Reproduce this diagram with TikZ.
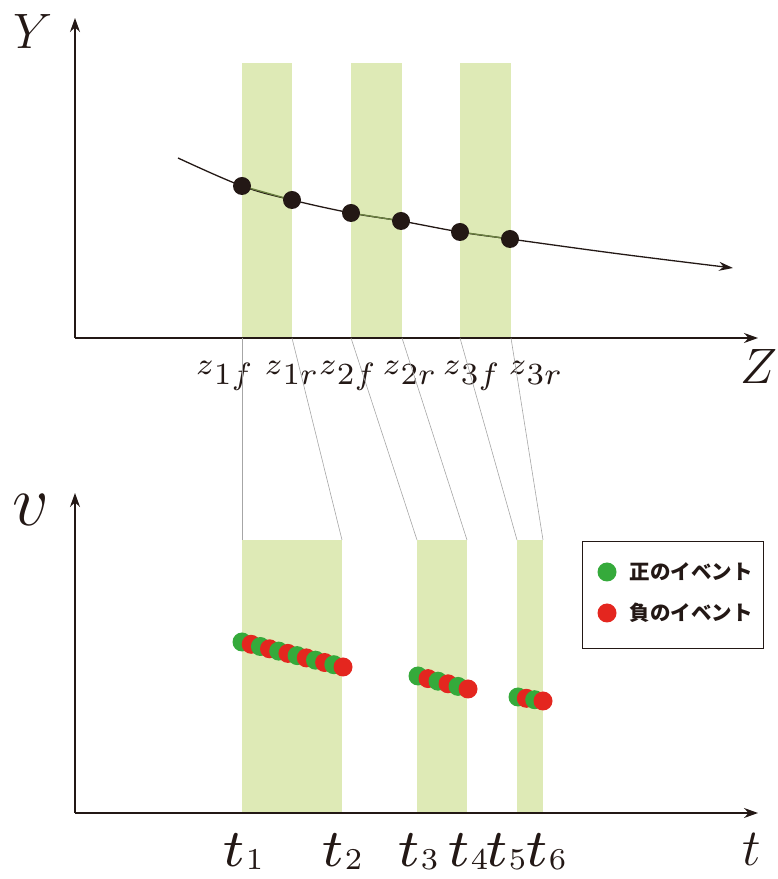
\documentclass[tikz,border=0pt]{standalone}
\usepackage{graphicx}
\usepackage{fontspec}
\newfontfamily\jpfont{Noto Sans CJK JP}
\usetikzlibrary{arrows.meta}
\definecolor{bandgreen}{HTML}{DEEAB6}
\definecolor{evgreen}{HTML}{35AA3B}
\definecolor{evred}{HTML}{E4261F}
\definecolor{olive}{HTML}{6A8040}
\definecolor{ink}{HTML}{231815}
% subscripts with a chosen drop
\newcommand\lowsub[1]{\raisebox{-0.05em}{\scalebox{0.57}{$#1$}}}
\newcommand\zsub[1]{\raisebox{-0.3em}{$#1$}}

\begin{document}
\begin{tikzpicture}[x=1pt, y=1pt,
  axis/.style={line width=1.4pt, draw=ink, -{Stealth[length=14pt, width=10pt]}},
  band/.style={fill=bandgreen, draw=none},
  link/.style={draw=gray!70, line width=0.6pt},
  bdot/.style={circle, fill=ink, inner sep=0pt, minimum size=18pt},
  evg/.style={circle, fill=evgreen, inner sep=0pt, minimum size=19pt},
  evr/.style={circle, fill=evred, inner sep=0pt, minimum size=19pt},
  bigmath/.style={text=ink, font=\Huge, scale=2},
  zlab/.style={text=ink, font=\scriptsize, scale=4.4, anchor=base},
  tlab/.style={text=ink, font=\scriptsize, scale=7.6, anchor=base},
  legtext/.style={anchor=west, text=ink, font=\jpfont\bfseries\fontsize{20.5}{24}\selectfont}]
\useasboundingbox (0,0) rectangle (778,879);

% Position plot (top)
\fill[band] (242,541) rectangle (292,816);
\fill[band] (351,541) rectangle (402,816);
\fill[band] (460,541) rectangle (511,816);

\coordinate (O1) at (75,541);
\coordinate (Ytop) at (75,861);
\coordinate (Zend) at (758,541);
\draw[axis] (O1) -- (Ytop);
\draw[axis] (O1) -- (Zend);
\node[bigmath] (Ylab) at (33,847) {$Y$};
\node[bigmath] (Zlab) at (759,512) {$Z$};

% Trajectory through the pixel edges
\draw[line width=1.3pt, draw=ink, -{Stealth[length=14pt, width=9pt]}]
  plot[smooth, tension=0.6] coordinates {(178,721) (242,693) (292,679) (351,666) (401,658) (460,647) (510,640) (620,625) (733,611)};
\draw[line width=1.3pt, draw=olive] (242,693) -- (292,679);
\draw[line width=1.3pt, draw=olive] (351,666) -- (401,658);
\draw[line width=1.3pt, draw=olive] (460,647) -- (510,640);

\node[bdot] (p1f) at (242,693) {};
\node[bdot] (p1r) at (292,679) {};
\node[bdot] (p2f) at (351,666) {};
\node[bdot] (p2r) at (401,658) {};
\node[bdot] (p3f) at (460,647) {};
\node[bdot] (p3r) at (510,640) {};

\node[zlab] (z1f) at (224,504) {$z\zsub{1f}$};
\node[zlab] (z1r) at (291,504) {$z\zsub{1r}$};
\node[zlab] (z2f) at (347,504) {$z\zsub{2f}$};
\node[zlab] (z2r) at (409,504) {$z\zsub{2r}$};
\node[zlab] (z3f) at (471,504) {$z\zsub{3f}$};
\node[zlab] (z3r) at (535,504) {$z\zsub{3r}$};

% Time plot (bottom)
\fill[band] (242,66) rectangle (342,339);
\fill[band] (417,66) rectangle (467,339);
\fill[band] (517,66) rectangle (543,339);

\coordinate (O2) at (75,66);
\coordinate (vtop) at (75,386);
\coordinate (tend) at (758,66);
\draw[axis] (O2) -- (vtop);
\draw[axis] (O2) -- (tend);
\node[text=ink, font=\Huge, scale=2.9] (vlab) at (31,369) {$v$};
\node[bigmath, scale=1.05] (tlab) at (752,30) {$t$};

% Links between the two plots
\coordinate (a1) at (242,541); \coordinate (b1) at (242,339);
\coordinate (a2) at (292,541); \coordinate (b2) at (342,339);
\coordinate (a3) at (351,541); \coordinate (b3) at (417,339);
\coordinate (a4) at (402,541); \coordinate (b4) at (467,339);
\coordinate (a5) at (460,541); \coordinate (b5) at (517,339);
\coordinate (a6) at (511,541); \coordinate (b6) at (543,339);
\draw[link] (a1) -- (b1);
\draw[link] (a2) -- (b2);
\draw[link] (a3) -- (b3);
\draw[link] (a4) -- (b4);
\draw[link] (a5) -- (b5);
\draw[link] (a6) -- (b6);

% Events, first pixel
\node[evg] (e1) at (242,237) {};
\node[evr] (e2) at (251.2,234.7) {};
\node[evg] (e3) at (260.4,232.5) {};
\node[evr] (e4) at (269.5,230.2) {};
\node[evg] (e5) at (278.7,227.9) {};
\node[evr] (e6) at (287.9,225.6) {};
\node[evg] (e7) at (297.1,223.4) {};
\node[evr] (e8) at (306.3,221.1) {};
\node[evg] (e9) at (315.5,218.8) {};
\node[evr] (e10) at (324.6,216.5) {};
\node[evg] (e11) at (333.8,214.3) {};
\node[evr] (e12) at (343,212) {};

% Events, second pixel
\node[evg] (f1) at (418,203) {};
\node[evr] (f2) at (428,200.4) {};
\node[evg] (f3) at (438,197.8) {};
\node[evr] (f4) at (448,195.2) {};
\node[evg] (f5) at (458,192.6) {};
\node[evr] (f6) at (468,190) {};

% Events, third pixel
\node[evg] (g1) at (518,182) {};
\node[evr] (g2) at (526.3,180.7) {};
\node[evg] (g3) at (534.7,179.3) {};
\node[evr] (g4) at (543,178) {};

\node[tlab] (t1) at (243,12) {$t\lowsub{1}$};
\node[tlab] (t2) at (342,12) {$t\lowsub{2}$};
\node[tlab] (t3) at (418,12) {$t\lowsub{3}$};
\node[tlab] (t4) at (468,12) {$t\lowsub{4}$};
\node[tlab] (t5) at (506,12) {$t\lowsub{5}$};
\node[tlab] (t6) at (546,12) {$t\lowsub{6}$};

% Legend
\draw[draw=ink, line width=0.8pt] (582,231) rectangle (763,338);
\node[evg] (lg) at (607,307) {};
\node[evr] (lr) at (607,266) {};
\node[legtext] (lgt) at (626,307) {正のイベント};
\node[legtext] (lrt) at (626,266) {負のイベント};
\end{tikzpicture}
\end{document}
